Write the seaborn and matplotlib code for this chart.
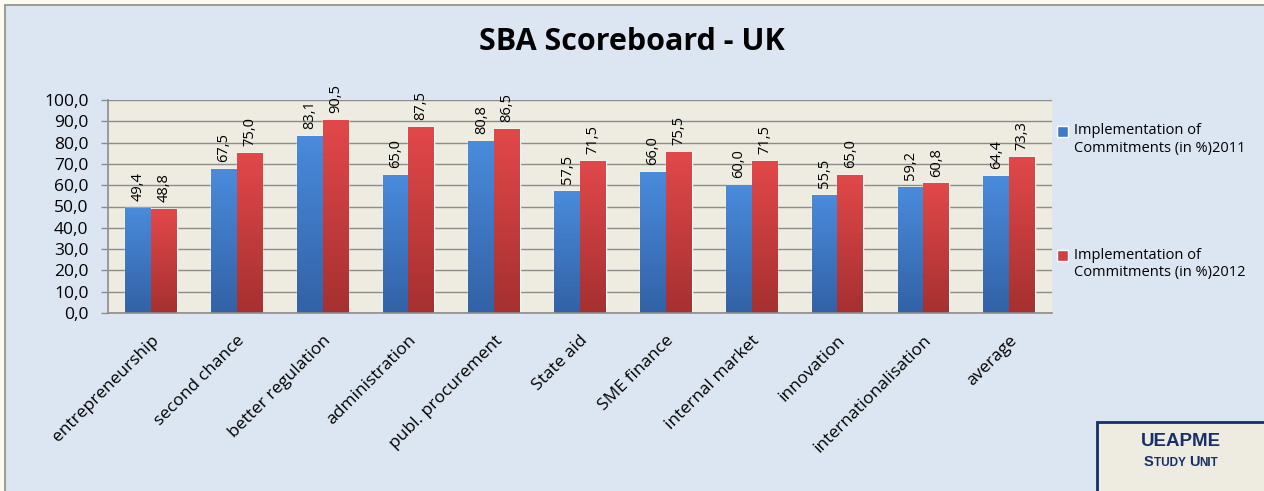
import matplotlib
matplotlib.use("Agg")
from matplotlib import pyplot as plt
from matplotlib.patches import Rectangle
from matplotlib.legend_handler import HandlerPatch
from matplotlib.offsetbox import TextArea, HPacker, AnnotationBbox
import matplotlib.transforms as mtransforms
import seaborn as sns
import numpy as np
import pandas as pd

categories = ['entrepreneurship', 'second chance', 'better regulation', 'administration',
              'publ. procurement', 'State aid', 'SME finance', 'internal market',
              'innovation', 'internationalisation', 'average']
values2011 = [49.4, 67.5, 83.1, 65.0, 80.8, 57.5, 66.0, 60.0, 55.5, 59.2, 64.4]
values2012 = [48.8, 75.0, 90.5, 87.5, 86.5, 71.5, 75.5, 71.5, 65.0, 60.8, 73.3]
series = ['Implementation of\nCommitments (in %)2011', 'Implementation of\nCommitments (in %)2012']
yticks = [0, 10, 20, 30, 40, 50, 60, 70, 80, 90, 100]

df = pd.DataFrame({
    'cat': categories * 2,
    'val': values2011 + values2012,
    'series': [series[0]] * len(categories) + [series[1]] * len(categories),
})

sns.set_style("white")
plt.rcParams['font.family'] = ['Open Sans', 'DejaVu Sans']
plt.rcParams['text.color'] = 'black'
plt.rcParams['xtick.color'] = 'black'
plt.rcParams['ytick.color'] = 'black'

fig = plt.figure(figsize=(12.64, 4.91), dpi=100)
fig.patch.set_facecolor('#FBFBEF')
# rahmen
fig.patches.append(Rectangle((5 / 1264, -0.01), 1.01, 0.01 + 486 / 491, transform=fig.transFigure,
                             facecolor='#DCE6F2', edgecolor='#8C8C8C', linewidth=1.2, zorder=-5))

ax = fig.add_axes([108 / 1264, 1 - 313 / 491, 944 / 1264, 213 / 491])
ax.set_zorder(1)
ax.set_facecolor('#EEECE1')

palette = {series[0]: '#3F7BC8', series[1]: '#D04040'}
sns.barplot(data=df, x='cat', y='val', hue='series', palette=palette, width=0.6,
            saturation=1, ax=ax, legend=True)

# verlauf in den balken
grads = [('#4A8BDC', '#3262A6'), ('#E2484A', '#A63030')]
for ci, cont in enumerate(ax.containers):
    top, bot = grads[ci]
    cmap = matplotlib.colors.LinearSegmentedColormap.from_list('g', [bot, top])
    for p in cont.patches:
        x0, y0 = p.get_x(), p.get_y()
        w, h = p.get_width(), p.get_height()
        im = ax.imshow(np.linspace(0, 1, 100).reshape(-1, 1), cmap=cmap, origin='lower',
                       extent=[x0, x0 + w, y0, y0 + h], aspect='auto', zorder=2)
        im.set_clip_path(p)
    vals = values2011 if ci == 0 else values2012
    ax.bar_label(cont, labels=[('%.1f' % v).replace('.', ',') for v in vals],
                 rotation=90, padding=5, fontsize=10.5, color='#000000')
ax.set_xlim(-0.5, len(categories) - 0.5)
ax.set_ylim(0, 100)

ax.set_yticks(yticks)
ax.set_yticklabels([('%.1f' % v).replace('.', ',') for v in yticks], fontsize=12.5)
ax.yaxis.grid(True, color='#8C8C8C', linewidth=1)
ax.set_axisbelow(True)
ax.set_xlabel('')
ax.set_ylabel('')
ax.set_xticks(range(len(categories)))
ax.set_xticklabels(categories, rotation=45, ha='right', rotation_mode='anchor', fontsize=12.5)
shift = mtransforms.ScaledTranslation(4 / 100, 0, fig.dpi_scale_trans)
for lab in ax.get_xticklabels():
    lab.set_transform(lab.get_transform() + shift)
ax.set_xticks(np.arange(-0.5, len(categories)), minor=True)
ax.tick_params(axis='x', which='major', length=0, pad=14)
ax.tick_params(axis='x', which='minor', length=5, color='#8C8C8C', width=1, direction='out')
ax.tick_params(axis='y', length=5, color='#8C8C8C', width=1, direction='out', left=True, pad=9)
for s in ['top', 'right']:
    ax.spines[s].set_visible(False)
for s in ['left', 'bottom']:
    ax.spines[s].set_color('#8C8C8C')
    ax.spines[s].set_linewidth(1.2)


# legendensymbol auf hoehe der ersten zeile
def top_patch(legend, orig_handle, xdescent, ydescent, width, height, fontsize):
    return Rectangle((-xdescent, -ydescent + 0.6 * fontsize), width, height)


handles, labels = ax.get_legend_handles_labels()
leg = ax.legend(handles, labels, loc='upper left', bbox_to_anchor=(1.005, 0.89), frameon=False,
                fontsize=10.5, labelspacing=6.3, handlelength=0.75, handleheight=0.75,
                handletextpad=0.45, borderaxespad=0, borderpad=0,
                handler_map={Rectangle: HandlerPatch(patch_func=top_patch)})

fig.text(0.5, 1 - 42 / 491, 'SBA Scoreboard - UK', ha='center', va='center',
         fontsize=22, fontweight='bold')

# logo kasten
fig.patches.append(Rectangle((1097 / 1264, -0.02), 0.2, 0.02 + 69 / 491, transform=fig.transFigure,
                             facecolor='#EEECE1', edgecolor='#17306A', linewidth=2, zorder=3))
logo_font = ['Liberation Sans', 'DejaVu Sans']
fig.text(1181 / 1264, 1 - 441 / 491, 'UEAPME', ha='center', va='center', fontsize=13.5,
         fontweight='bold', color='#17306A', family=logo_font, zorder=4)
parts = [('S', 10.5), ('TUDY ', 8.5), ('U', 10.5), ('NIT', 8.5)]
boxes = [TextArea(t, textprops=dict(fontsize=s, fontweight='bold', color='#17306A',
                                    family=logo_font)) for t, s in parts]
pack = HPacker(children=boxes, align='baseline', pad=0, sep=0)
ab = AnnotationBbox(pack, (1181 / 1264, 1 - 462 / 491), xycoords='figure fraction',
                    frameon=False, box_alignment=(0.5, 0.5), zorder=4)
fig.add_artist(ab)

fig.savefig('out.png', dpi=100, facecolor=fig.get_facecolor())
